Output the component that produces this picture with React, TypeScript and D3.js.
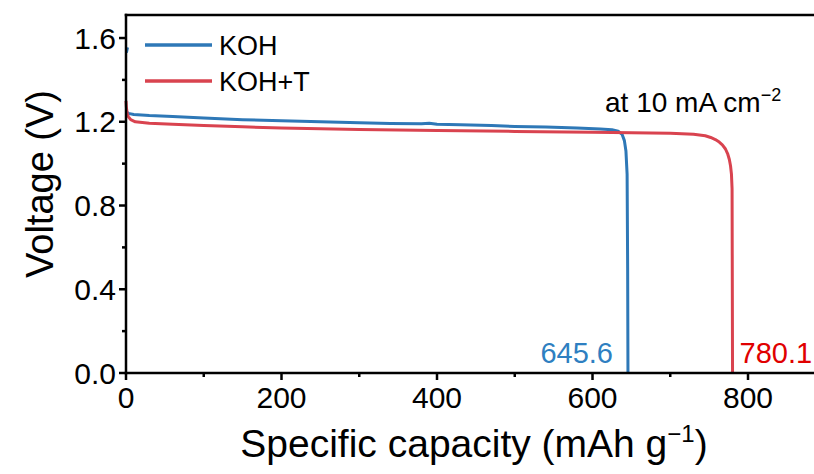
import React from "react";
import * as d3 from "d3";

const kohCap = [2.0, 0.5, NaN, 0, 1.5, 3, 10, 30, 60, 100, 150, 200, 250, 300, 340, 380, 390, 400, 430, 470, 500, 540, 580, 610, 625, 633, 638, 641, 643, 644.5, 645.2, 645.6];
const kohVolt = [1.555, 1.53, NaN, 1.25, 1.245, 1.24, 1.235, 1.23, 1.225, 1.218, 1.21, 1.205, 1.2, 1.195, 1.192, 1.19, 1.193, 1.188, 1.186, 1.182, 1.178, 1.175, 1.17, 1.166, 1.162, 1.155, 1.14, 1.11, 1.06, 0.95, 0.5, 0];

const kohtCap = [0, 0.5, 1.5, 3, 6, 12, 30, 60, 100, 150, 200, 300, 400, 500, 600, 650, 700, 730, 745, 752, 758, 763, 767, 771, 774, 776, 777.5, 778.7, 779.5, 780.1];
const kohtVolt = [1.3, 1.27, 1.24, 1.225, 1.21, 1.2, 1.193, 1.188, 1.182, 1.176, 1.17, 1.163, 1.158, 1.154, 1.15, 1.148, 1.145, 1.14, 1.133, 1.125, 1.115, 1.103, 1.09, 1.07, 1.045, 1.02, 0.99, 0.95, 0.88, 0];

const seriesNames = ["KOH", "KOH+T"];
const seriesColors = ["#2e78b7", "#d9434f"];
const labelColors = ["#2e7fc1", "#e00000"];
const capLabels = ["645.6", "780.1"];
const capValues = [645.6, 780.1];

const xMajor = [0, 200, 400, 600, 800];
const xMinor = [100, 300, 500, 700];
const yMajor = [0, 0.4, 0.8, 1.2, 1.6];
const yMinor = [0.2, 0.6, 1.0, 1.4];

const W = 814;
const H = 474;
const L = 126;
const R = 812;
const T = 15;
const B = 373;
const FONT = "'Liberation Sans', Arial, sans-serif";

export default function App() {
  const x = d3.scaleLinear().domain([0, 882.3]).range([L, R]);
  const y = d3.scaleLinear().domain([0, 1.71]).range([B, T]);
  const lin = d3
    .line<[number, number]>()
    .defined((d) => !isNaN(d[0]) && !isNaN(d[1]))
    .x((d) => x(d[0]))
    .y((d) => y(d[1]));

  const koh: [number, number][] = kohCap.map((c, i) => [c, kohVolt[i]]);
  const koht: [number, number][] = kohtCap.map((c, i) => [c, kohtVolt[i]]);

  return (
    <svg
      width={W}
      height={H}
      viewBox={`0 0 ${W} ${H}`}
      style={{ position: "absolute", left: 0, top: 0, background: "#fff" }}
      fontFamily={FONT}
    >
      <rect x={0} y={0} width={W} height={H} fill="#fff" />
      <path d={lin(koh) || ""} fill="none" stroke={seriesColors[0]} strokeWidth={3} strokeLinejoin="round" />
      <path d={lin(koht) || ""} fill="none" stroke={seriesColors[1]} strokeWidth={3} strokeLinejoin="round" />

      {/* axes frame */}
      <line x1={L} x2={L} y1={T - 1.25} y2={B + 1.25} stroke="#000" strokeWidth={2.5} />
      <line x1={L - 1.25} x2={W} y1={B} y2={B} stroke="#000" strokeWidth={2.5} />
      <line x1={L - 1.25} x2={W} y1={T} y2={T} stroke="#000" strokeWidth={2.5} />

      {/* x ticks */}
      {xMajor.map((v) => (
        <g key={"xm" + v}>
          <line x1={x(v)} x2={x(v)} y1={B} y2={B + 7} stroke="#000" strokeWidth={2.5} />
          <text x={x(v)} y={408} textAnchor="middle" fontSize={30} fill="#000">
            {v}
          </text>
        </g>
      ))}
      {xMinor.map((v) => (
        <line key={"xn" + v} x1={x(v)} x2={x(v)} y1={B} y2={B + 4} stroke="#000" strokeWidth={2.5} />
      ))}

      {/* y ticks */}
      {yMajor.map((v) => (
        <g key={"ym" + v}>
          <line x1={L - 7} x2={L} y1={y(v)} y2={y(v)} stroke="#000" strokeWidth={2.5} />
          <text x={116} y={y(v) + 10.5} textAnchor="end" fontSize={30} fill="#000">
            {v.toFixed(1)}
          </text>
        </g>
      ))}
      {yMinor.map((v) => (
        <line key={"yn" + v} x1={L - 4} x2={L} y1={y(v)} y2={y(v)} stroke="#000" strokeWidth={2.5} />
      ))}

      {/* axis titles */}
      <text x={474} y={457} textAnchor="middle" fontSize={39} fill="#000">
        Specific capacity (mAh g
        <tspan dy={-15} fontSize={24}>−1</tspan>
        <tspan dy={15}>)</tspan>
      </text>
      <text
        transform={`translate(53, 184) rotate(-90)`}
        textAnchor="middle"
        fontSize={38}
        fill="#000"
      >
        Voltage (V)
      </text>

      {/* legend */}
      {seriesNames.map((n, i) => (
        <g key={n}>
          <line x1={145} x2={212} y1={45 + i * 36} y2={45 + i * 36} stroke={seriesColors[i]} strokeWidth={3.5} />
          <text x={219} y={55 + i * 36} fontSize={27} fill="#000">
            {n}
          </text>
        </g>
      ))}

      {/* annotation */}
      <text x={605} y={112} fontSize={28} fill="#000">
        at 10 mA cm
        <tspan dy={-11} fontSize={18}>−2</tspan>
      </text>

      {/* capacity labels */}
      <text x={x(capValues[0]) - 15} y={363} textAnchor="end" fontSize={29} fill={labelColors[0]}>
        {capLabels[0]}
      </text>
      <text x={x(capValues[1]) + 7} y={363} textAnchor="start" fontSize={29} fill={labelColors[1]}>
        {capLabels[1]}
      </text>
    </svg>
  );
}
